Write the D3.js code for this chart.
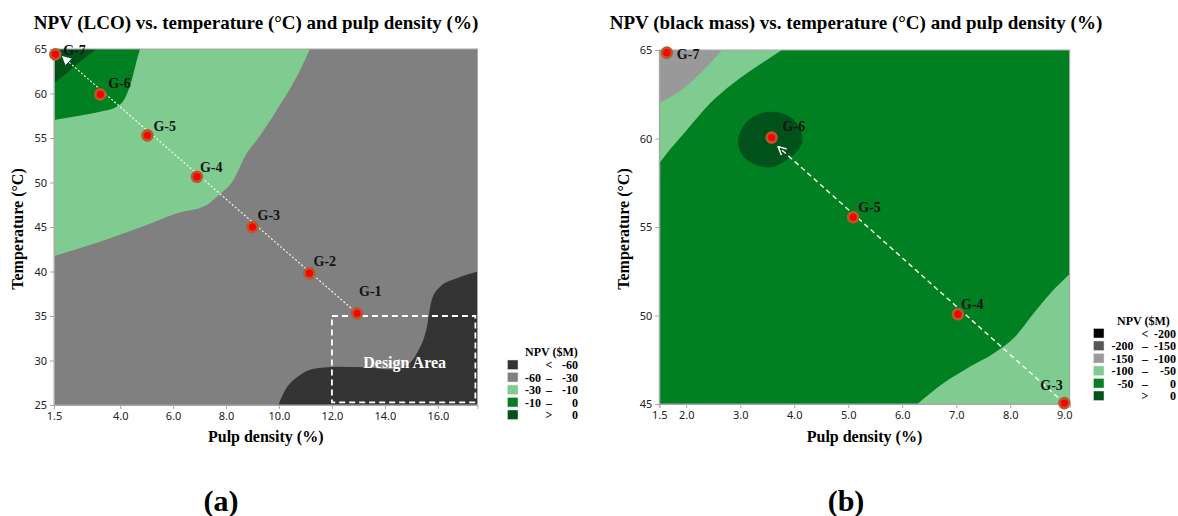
<!DOCTYPE html>
<html><head><meta charset="utf-8">
<script src="https://cdn.jsdelivr.net/npm/d3@7"></script>
<style>
body{margin:0;background:#fff}
svg{display:block}
.tick text{font-family:"Noto Sans","Open Sans",sans-serif;font-size:11px;fill:#222}
.serif{font-family:"Liberation Serif","Times New Roman",serif;font-weight:bold}
</style>
</head><body>
<svg id="chart" width="1178" height="516"></svg>
<script>
// ===================== DATA =====================
// Panel (a): NPV (LCO)
const lcoXTicks = [1.5, 4, 6, 8, 10, 12, 14, 16];
const lcoYTicks = [25, 30, 35, 40, 45, 50, 55, 60, 65];
const lcoPointNames = ["G-1", "G-2", "G-3", "G-4", "G-5", "G-6", "G-7"];
const lcoPulp = [12.95, 11.15, 9.0, 6.9, 5.03, 3.25, 1.55];
const lcoTemp = [35.3, 39.8, 45.0, 50.65, 55.3, 59.9, 64.4];
// contour boundaries [pulp density, temperature]
const lcoPositiveEdge = [[1.5, 61.15], [1.98, 62.27], [2.48, 63.57], [3.11, 65]];          // > 0 (upper-left)
const lcoGreenEdge = [[1.5, 57.02], [2.61, 57.58], [3.24, 57.96], [3.87, 58.52], [4.18, 59.46],
  [4.44, 61.52], [4.63, 63.76], [4.75, 65]];                                                  // -10 .. 0 (upper-left)
const lcoLightGreenEdge = [[1.5, 41.74], [3.24, 43.35], [5.0, 45.22], [6.14, 46.54], [7.27, 47.47],
  [7.65, 48.4], [8.28, 50.28], [8.78, 53.28], [9.16, 54.78], [9.92, 58.15], [10.8, 62.64], [11.17, 65]]; // -30 .. -10
const lcoDarkGrayEdge = [[9.98, 25], [10.17, 26.31], [10.8, 28.37], [11.43, 29.12], [12.18, 29.3],
  [13.32, 29.24], [14.07, 29.01], [14.7, 29.3], [15.21, 30.81], [15.59, 33.8], [15.77, 36.8],
  [16.09, 38.29], [16.72, 39.24], [17.51, 40.0]];                                             // < -60 (lower-right)
const lcoDesignArea = [[12.0, 35.0], [17.42, 25.3]];
const lcoArrow = [[12.95, 35.3], [1.82, 64.15]];
const lcoLegendLow = ["", "-60", "-30", "-10", ""];
const lcoLegendSym = ["<", "–", "–", "–", ">"];
const lcoLegendHigh = ["-60", "-30", "-10", "0", "0"];
const lcoLegendColors = ["#333333", "#808080", "#80cc90", "#008020", "#00521a"];

// Panel (b): NPV (black mass)
const bmXTicks = [1.5, 2, 3, 4, 5, 6, 7, 8, 9];
const bmYTicks = [45, 50, 55, 60, 65];
const bmPointNames = ["G-3", "G-4", "G-5", "G-6", "G-7"];
const bmPulp = [9.0, 7.03, 5.09, 3.58, 1.64];
const bmTemp = [45.05, 50.07, 55.55, 60.05, 64.85];
const bmGrayEdge = [[1.5, 61.99], [1.82, 62.55], [2.13, 63.31], [2.44, 64.25], [2.66, 65]];           // -150 .. -100
const bmLightTopEdge = [[1.5, 58.6], [1.64, 59.16], [2.01, 60.48], [2.44, 61.99], [2.87, 63.12],
  [3.49, 64.44], [3.77, 65]];                                                                           // -100 .. -50 (top)
const bmLightBottomEdge = [[6.28, 45], [6.76, 46.17], [7.25, 47.11], [7.69, 47.86], [8.06, 48.71],
  [8.43, 50.12], [8.74, 51.25], [9.12, 52.4]];                                                          // -100 .. -50 (bottom)
const bmPositiveBlob = [[2.96, 59.73], [3.03, 60.58], [3.24, 61.23], [3.52, 61.51], [3.86, 61.33],
  [4.07, 60.76], [4.15, 59.92], [4.07, 59.35], [3.86, 58.79], [3.58, 58.37], [3.3, 58.5], [3.06, 58.97]]; // > 0
const bmArrow = [[9.0, 45.05], [3.7, 59.54]];
const bmLegendLow = ["", "-200", "-150", "-100", "-50", ""];
const bmLegendSym = ["<", "–", "–", "–", "–", ">"];
const bmLegendHigh = ["-200", "-150", "-100", "-50", "0", "0"];
const bmLegendColors = ["#000000", "#555555", "#999999", "#80cc90", "#008020", "#00521a"];

// ===================== LAYOUT / STYLE =====================
const svg = d3.select("#chart");
const C = {dark: "#333333", gray: "#808080", light: "#80cc90", green: "#008020", pos: "#00521a", gray2: "#999999"};

const defs = svg.append("defs");
defs.append("marker").attr("id", "arrowFill").attr("viewBox", "0 0 10 10")
  .attr("refX", 9).attr("refY", 5).attr("markerWidth", 9).attr("markerHeight", 9)
  .attr("markerUnits", "userSpaceOnUse").attr("orient", "auto")
  .append("path").attr("d", "M0,0 L10,5 L0,10 Z").attr("fill", "#fff");
defs.append("marker").attr("id", "arrowOpen").attr("viewBox", "0 0 10 10")
  .attr("refX", 9).attr("refY", 5).attr("markerWidth", 10).attr("markerHeight", 10)
  .attr("markerUnits", "userSpaceOnUse").attr("orient", "auto")
  .append("path").attr("d", "M1,1 L9,5 L1,9").attr("fill", "none").attr("stroke", "#fff").attr("stroke-width", 1.5);

function panel(cfg) {
  const x = d3.scaleLinear().domain(cfg.xDomain).range(cfg.xRange);
  const y = d3.scaleLinear().domain(cfg.yDomain).range(cfg.yRange);
  const g = svg.append("g");
  const clipId = "clip" + cfg.id;
  defs.append("clipPath").attr("id", clipId).append("rect")
    .attr("x", cfg.xRange[0]).attr("y", cfg.yRange[1])
    .attr("width", cfg.xRange[1] - cfg.xRange[0]).attr("height", cfg.yRange[0] - cfg.yRange[1]);
  const plot = g.append("g").attr("clip-path", `url(#${clipId})`);
  plot.append("rect").attr("x", cfg.xRange[0]).attr("y", cfg.yRange[1])
    .attr("width", cfg.xRange[1] - cfg.xRange[0]).attr("height", cfg.yRange[0] - cfg.yRange[1])
    .attr("fill", cfg.background);
  cfg.regions.forEach(r => {
    let path;
    if (r.closed) {
      path = d3.line().x(d => x(d[0])).y(d => y(d[1])).curve(d3.curveCatmullRomClosed)(r.edge);
    } else {
      path = d3.area().x(d => x(d[0])).y0(y(r.base)).y1(d => y(d[1])).curve(d3.curveMonotoneX)(r.edge);
    }
    plot.append("path").attr("d", path).attr("fill", r.color);
  });
  // frame
  g.append("rect").attr("x", cfg.xRange[0]).attr("y", cfg.yRange[1])
    .attr("width", cfg.xRange[1] - cfg.xRange[0]).attr("height", cfg.yRange[0] - cfg.yRange[1])
    .attr("fill", "none").attr("stroke", "#a8a8a8").attr("stroke-width", 1);
  // axes
  const fmtX = d3.format(".1f");
  const ax = g.append("g").attr("transform", `translate(0,${cfg.yRange[0]})`)
    .call(d3.axisBottom(x).tickValues(cfg.xTicks).tickFormat(fmtX).tickSize(4).tickPadding(3));
  const ay = g.append("g").attr("transform", `translate(${cfg.xRange[0]},0)`)
    .call(d3.axisLeft(y).tickValues(cfg.yTicks).tickFormat(d3.format("d")).tickSize(4).tickPadding(3));
  [ax, ay].forEach(a => {
    a.select(".domain").attr("stroke", "#a8a8a8");
    a.selectAll(".tick line").attr("stroke", "#a8a8a8");
    a.attr("font-family", null).attr("font-size", null);
  });
  // extras (design area)
  if (cfg.design) {
    const [p0, p1] = cfg.design;
    plot.append("rect").attr("x", x(p0[0])).attr("y", y(p0[1]))
      .attr("width", x(p1[0]) - x(p0[0])).attr("height", y(p1[1]) - y(p0[1]))
      .attr("fill", "none").attr("stroke", "#fff").attr("stroke-width", 1.8).attr("stroke-dasharray", "6,4");
    g.append("text").attr("class", "serif").attr("x", (x(p0[0]) + x(p1[0])) / 2 + 1).attr("y", 367.5)
      .attr("text-anchor", "middle").attr("fill", "#fff").attr("font-size", 16).text("Design Area");
  }
  // arrow line
  g.append("line").attr("x1", x(cfg.arrow[0][0])).attr("y1", y(cfg.arrow[0][1]))
    .attr("x2", x(cfg.arrow[1][0])).attr("y2", y(cfg.arrow[1][1]))
    .attr("stroke", "#fff").attr("stroke-width", cfg.arrowWidth).attr("stroke-dasharray", cfg.arrowDash)
    .attr("marker-end", `url(#${cfg.arrowMarker})`);
  // points
  const pts = cfg.names.map((n, i) => ({n, px: cfg.pulp[i], t: cfg.temp[i], dx: cfg.labelDx[i], dy: cfg.labelDy[i]}));
  g.selectAll("circle.pt").data(pts).join("circle").attr("class", "pt")
    .attr("cx", d => x(d.px)).attr("cy", d => y(d.t)).attr("r", 5)
    .attr("fill", "#ff0000").attr("stroke", "#b55a2c").attr("stroke-width", 2.6);
  g.selectAll("text.lbl").data(pts).join("text").attr("class", "lbl serif")
    .attr("x", d => x(d.px) + d.dx).attr("y", d => y(d.t) + d.dy)
    .attr("font-size", 14).attr("fill", "#111").text(d => d.n);
  // titles
  g.append("text").attr("class", "serif").attr("font-size", 19)
    .attr("x", cfg.titleX).attr("y", 29).attr("text-anchor", "middle").attr("fill", "#000").text(cfg.title);
  g.append("text").attr("class", "serif").attr("font-size", 16)
    .attr("x", (cfg.xRange[0] + cfg.xRange[1]) / 2 + cfg.xTitleShift).attr("y", 442).attr("text-anchor", "middle")
    .attr("fill", "#000").text("Pulp density (%)");
  g.append("text").attr("class", "serif").attr("font-size", 16)
    .attr("transform", `translate(${cfg.yTitleX},${(cfg.yRange[0] + cfg.yRange[1]) / 2 + 2}) rotate(-90)`)
    .attr("text-anchor", "middle").attr("fill", "#000").text("Temperature (°C)");
  g.append("text").attr("class", "serif").attr("font-size", 30)
    .attr("x", cfg.tagX).attr("y", 511).attr("text-anchor", "middle").attr("fill", "#000").text(cfg.tag);
  // legend
  const L = cfg.legend;
  const lg = g.append("g");
  lg.append("text").attr("class", "serif").attr("font-size", 12).attr("x", L.titleX).attr("y", L.top - 4)
    .attr("fill", "#000").text("NPV ($M)");
  L.colors.forEach((c, i) => {
    const yy = L.top + i * 12.5;
    lg.append("rect").attr("x", L.swX).attr("y", yy).attr("width", 10.5).attr("height", 9.5)
      .attr("fill", c).attr("stroke", "#ddd").attr("stroke-width", 0.5);
    lg.append("text").attr("class", "serif").attr("font-size", 12).attr("x", L.lowX).attr("y", yy + 9)
      .attr("text-anchor", "end").text(L.low[i]);
    lg.append("text").attr("class", "serif").attr("font-size", 12).attr("x", L.symX).attr("y", yy + 9)
      .attr("text-anchor", "middle").text(L.sym[i]);
    lg.append("text").attr("class", "serif").attr("font-size", 12).attr("x", L.highX).attr("y", yy + 9)
      .attr("text-anchor", "end").text(L.high[i]);
  });
}

panel({
  id: "a", xDomain: [1.5, 17.5], xRange: [54, 477.5], yDomain: [25, 65], yRange: [405, 49],
  xTicks: lcoXTicks, yTicks: lcoYTicks, background: C.gray,
  regions: [
    {edge: lcoLightGreenEdge, base: 65, color: C.light},
    {edge: lcoGreenEdge, base: 65, color: C.green},
    {edge: lcoPositiveEdge, base: 65, color: C.pos},
    {edge: lcoDarkGrayEdge, base: 25, color: C.dark}
  ],
  design: lcoDesignArea,
  arrow: lcoArrow, arrowWidth: 1.1, arrowDash: "2,2", arrowMarker: "arrowFill",
  names: lcoPointNames, pulp: lcoPulp, temp: lcoTemp,
  labelDx: [2, 4, 5, 3, 6, 8, 8], labelDy: [-17, -7, -7, -4.5, -4, -6, 1],
  title: "NPV (LCO) vs. temperature (°C) and pulp density (%)", titleX: 256,
  xTitleShift: 0, yTitleX: 23, tag: "(a)", tagX: 221,
  legend: {titleX: 525, top: 360, swX: 507.5, lowX: 541, symX: 549, highX: 578,
    low: lcoLegendLow, sym: lcoLegendSym, high: lcoLegendHigh, colors: lcoLegendColors}
});

panel({
  id: "b", xDomain: [1.5, 9.1], xRange: [659.3, 1069.7], yDomain: [45, 65], yRange: [404, 50],
  xTicks: bmXTicks, yTicks: bmYTicks, background: C.green,
  regions: [
    {edge: bmLightTopEdge, base: 65, color: C.light},
    {edge: bmGrayEdge, base: 65, color: C.gray2},
    {edge: bmLightBottomEdge, base: 45, color: C.light},
    {edge: bmPositiveBlob, closed: true, color: C.pos}
  ],
  arrow: bmArrow, arrowWidth: 1.4, arrowDash: "5,3.5", arrowMarker: "arrowOpen",
  names: bmPointNames, pulp: bmPulp, temp: bmTemp,
  labelDx: [-24, 3, 5, 11, 10], labelDy: [-13, -5, -5.5, -7, 6],
  title: "NPV (black mass) vs. temperature (°C) and pulp density (%)", titleX: 856,
  xTitleShift: 0, yTitleX: 629, tag: "(b)", tagX: 846,
  legend: {titleX: 1117, top: 328.5, swX: 1093.5, lowX: 1133.5, symX: 1145, highX: 1176,
    low: bmLegendLow, sym: bmLegendSym, high: bmLegendHigh, colors: bmLegendColors}
});
</script>
</body></html>
